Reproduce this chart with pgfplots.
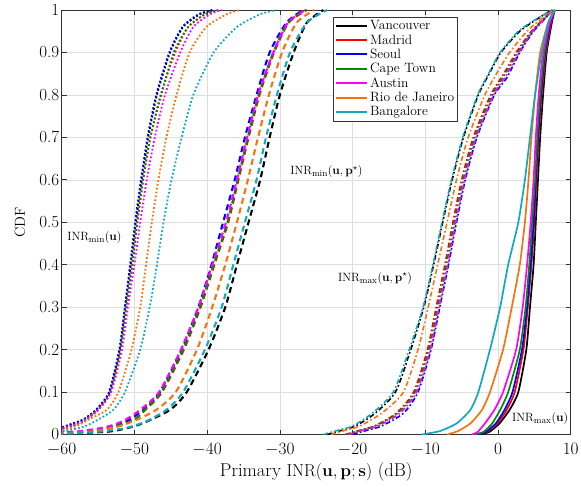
\documentclass[border=0pt]{standalone}
\usepackage{pgfplots}
\pgfplotsset{compat=1.18}
\definecolor{cBlack}{rgb}{0,0,0}
\definecolor{cRed}{rgb}{1,0,0}
\definecolor{cBlue}{rgb}{0,0,1}
\definecolor{cGreen}{rgb}{0,0.55,0}
\definecolor{cMag}{rgb}{1,0,1}
\definecolor{cOrange}{rgb}{0.97,0.45,0.05}
\definecolor{cCyan}{rgb}{0.07,0.66,0.74}
\pgfplotsset{
  dotS/.style={line width=1.8pt, dash pattern=on 1.8pt off 2.1pt, smooth, tension=0.4, forget plot},
  dashS/.style={line width=2.1pt, dash pattern=on 6pt off 4pt, smooth, tension=0.4, forget plot},
  ddS/.style={line width=1.6pt, dash pattern=on 5pt off 2.5pt on 1.6pt off 2.5pt, smooth, tension=0.4, forget plot},
  solS/.style={line width=1.7pt, smooth, tension=0.35, forget plot},
}
\begin{document}
\begin{tikzpicture}
\begin{axis}[
  scale only axis,
  width=509pt, height=424.5pt,
  xmin=-60, xmax=10, ymin=0, ymax=1,
  xtick={-60,-50,...,10},
  ytick={0,0.1,...,1.01},
  yticklabels={0,0.1,0.2,0.3,0.4,0.5,0.6,0.7,0.8,0.9,1},
  grid=major,
  major grid style={color=black!13, line width=0.5pt},
  axis line style={color=black!80, line width=0.6pt},
  tick style={color=black!80, line width=0.6pt},
  major tick length=5pt,
  tick align=inside,
  ticklabel style={font=\fontsize{17}{20}\selectfont},
  xticklabel style={yshift=-5pt},
  yticklabel style={xshift=1pt},
  xlabel={Primary $\mathrm{INR}(\mathbf{u},\mathbf{p};\mathbf{s})$ (dB)},
  ylabel={CDF},
  xlabel style={font=\fontsize{18.5}{22}\selectfont, at={(axis description cs:0.5,-0.0876)}, anchor=center},
  ylabel style={font=\fontsize{14.5}{17}\selectfont, at={(axis description cs:-0.082,0.5)}, anchor=center},
  legend style={at={(0.7786,0.984)}, anchor=north east, draw=black!80, line width=0.6pt, fill=white,
    font=\fontsize{13.5}{16.7}\selectfont, cells={anchor=west}, inner sep=1.5pt, row sep=-0.6pt},
  legend image code/.code={\draw[#1, line width=2pt, solid] (0pt,0pt) -- (31pt,0pt);},
  clip=true,
]
% ---------- INR_min(u): dotted ----------
\addplot[dotS, color=cBlack] coordinates {(-62,0.008)(-60,0.016)(-58.5,0.025)(-57,0.035)(-55.2,0.058)(-53.4,0.1)(-52.0,0.2)(-51.3,0.3)(-50.5,0.4)(-49.8,0.5)(-49.0,0.6)(-48.1,0.7)(-46.9,0.8)(-45.1,0.9)(-43.3,0.96)(-41,0.99)(-39,1)};
\addplot[dotS, color=cRed] coordinates {(-62,0.006)(-60,0.013)(-58.5,0.021)(-57,0.031)(-55.0,0.058)(-53.3,0.1)(-51.9,0.2)(-51.1,0.3)(-50.3,0.4)(-49.6,0.5)(-48.8,0.6)(-47.8,0.7)(-46.4,0.8)(-44.4,0.9)(-42.6,0.96)(-40.3,0.99)(-38.5,1)};
\addplot[dotS, color=cBlue] coordinates {(-62,0.009)(-60,0.017)(-58.5,0.026)(-57,0.036)(-55.3,0.058)(-53.5,0.1)(-52.1,0.2)(-51.3,0.3)(-50.6,0.4)(-49.9,0.5)(-49.1,0.6)(-48.2,0.7)(-47.0,0.8)(-45.2,0.9)(-43.4,0.96)(-41.2,0.99)(-39.3,1)};
\addplot[dotS, color=cGreen] coordinates {(-62,0.006)(-60,0.013)(-58.5,0.021)(-57,0.031)(-55.0,0.058)(-53.3,0.1)(-51.9,0.2)(-51.1,0.3)(-50.3,0.4)(-49.6,0.5)(-48.8,0.6)(-47.8,0.7)(-46.3,0.8)(-44.6,0.9)(-42.6,0.96)(-40.3,0.99)(-38.5,1)};
\addplot[dotS, color=cMag] coordinates {(-62,0.007)(-60,0.014)(-58.5,0.022)(-57,0.032)(-55.0,0.058)(-53.2,0.1)(-51.7,0.2)(-50.9,0.3)(-50.0,0.4)(-49.2,0.5)(-48.3,0.6)(-47.2,0.7)(-45.8,0.8)(-43.7,0.9)(-41.9,0.96)(-39.6,0.99)(-38,1)};
\addplot[dotS, color=cOrange] coordinates {(-62,0.004)(-60,0.009)(-58,0.02)(-56,0.038)(-53.8,0.058)(-52.2,0.1)(-50.4,0.2)(-49.2,0.3)(-48.4,0.4)(-47.6,0.5)(-46.7,0.6)(-45.6,0.7)(-44.2,0.8)(-42.4,0.9)(-40.1,0.96)(-37.3,0.99)(-35.5,1)};
\addplot[dotS, color=cCyan] coordinates {(-62,0.003)(-60,0.007)(-57,0.018)(-55,0.035)(-52.9,0.058)(-51.3,0.1)(-49.2,0.2)(-47.9,0.3)(-46.9,0.4)(-46.0,0.5)(-44.9,0.6)(-43.5,0.7)(-41.9,0.8)(-39.1,0.9)(-35.9,0.96)(-32.7,0.99)(-30.5,1)};
% ---------- INR_min(u,p*): dashed ----------
\addplot[dashS, color=cBlack] coordinates {(-62,0.001)(-58,0.003)(-53.4,0.007)(-51,0.015)(-48.9,0.026)(-45.1,0.058)(-42.8,0.1)(-39.8,0.2)(-37.5,0.3)(-35.9,0.4)(-34.3,0.5)(-32.7,0.6)(-31.4,0.7)(-30.0,0.8)(-28.1,0.9)(-26.3,0.97)(-24.0,1)};
\addplot[dashS, color=cRed] coordinates {(-62,0.002)(-58,0.005)(-55,0.011)(-52,0.022)(-50,0.035)(-48.5,0.058)(-46.2,0.1)(-43.2,0.2)(-40.9,0.3)(-39.0,0.4)(-37.1,0.5)(-35.7,0.6)(-34.3,0.7)(-32.8,0.8)(-30.8,0.9)(-28.8,0.97)(-26.3,1)};
\addplot[dashS, color=cBlue] coordinates {(-62,0.002)(-58,0.005)(-55,0.011)(-53.4,0.015)(-51,0.032)(-48.8,0.058)(-46.5,0.1)(-43.5,0.2)(-41.2,0.3)(-39.4,0.4)(-37.8,0.5)(-36.2,0.6)(-34.8,0.7)(-33.2,0.8)(-31.4,0.9)(-29.1,0.97)(-26.8,1)};
\addplot[dashS, color=cGreen] coordinates {(-62,0.002)(-58,0.005)(-55,0.011)(-52,0.022)(-50,0.035)(-48.6,0.058)(-46.3,0.1)(-43.3,0.2)(-41.0,0.3)(-39.1,0.4)(-37.2,0.5)(-35.8,0.6)(-34.4,0.7)(-32.9,0.8)(-30.9,0.9)(-28.9,0.97)(-26.4,1)};
\addplot[dashS, color=cMag] coordinates {(-62,0.003)(-58,0.007)(-55,0.014)(-53,0.022)(-51.3,0.034)(-49.2,0.058)(-46.6,0.1)(-43.6,0.2)(-41.2,0.3)(-39.3,0.4)(-37.4,0.5)(-35.9,0.6)(-34.5,0.7)(-33.0,0.8)(-30.9,0.9)(-28.9,0.97)(-26.5,1)};
\addplot[dashS, color=cOrange] coordinates {(-62,0.001)(-58,0.004)(-55,0.009)(-52,0.02)(-49.5,0.036)(-47,0.058)(-44.3,0.1)(-41.4,0.2)(-39.3,0.3)(-37.5,0.4)(-35.9,0.5)(-34.4,0.6)(-33.0,0.7)(-31.5,0.8)(-29.7,0.9)(-27.7,0.97)(-25.3,1)};
\addplot[dashS, color=cCyan] coordinates {(-62,0.001)(-58,0.003)(-54,0.008)(-51,0.016)(-48.5,0.03)(-45.6,0.058)(-43.3,0.1)(-40.3,0.2)(-38.0,0.3)(-36.4,0.4)(-34.8,0.5)(-33.2,0.6)(-31.9,0.7)(-30.4,0.8)(-28.6,0.9)(-26.3,0.97)(-23.5,1)};
% ---------- INR_max(u,p*): dash-dot ----------
\addplot[ddS, color=cBlack] coordinates {(-23.5,0)(-21.5,0.01)(-19.6,0.02)(-16.9,0.05)(-14.1,0.1)(-12,0.2)(-10.2,0.3)(-8.85,0.4)(-7.6,0.5)(-6.3,0.6)(-4.75,0.7)(-2.7,0.8)(-1.2,0.85)(0.4,0.9)(3.0,0.95)(5.5,0.98)(7.4,1)};
\addplot[ddS, color=cRed] coordinates {(-21,0)(-19,0.01)(-17,0.02)(-14,0.05)(-11.6,0.1)(-9.7,0.2)(-8.5,0.3)(-7.3,0.4)(-6.2,0.5)(-5.0,0.6)(-3.4,0.7)(-1.0,0.8)(0.8,0.85)(2.5,0.9)(4.6,0.95)(7.5,1)};
\addplot[ddS, color=cBlue] coordinates {(-20,0)(-18,0.01)(-16,0.02)(-13,0.05)(-11.0,0.1)(-9.2,0.2)(-8.0,0.3)(-6.8,0.4)(-5.7,0.5)(-4.5,0.6)(-2.9,0.7)(-0.5,0.8)(1.2,0.84)(3.0,0.9)(4.9,0.95)(7.6,1)};
\addplot[ddS, color=cGreen] coordinates {(-20.8,0)(-18.8,0.01)(-16.8,0.02)(-13.8,0.05)(-11.4,0.1)(-9.5,0.2)(-8.3,0.3)(-7.1,0.4)(-6.0,0.5)(-4.8,0.6)(-3.2,0.7)(-0.8,0.8)(1.0,0.85)(2.7,0.9)(4.7,0.95)(7.5,1)};
\addplot[ddS, color=cMag] coordinates {(-20.5,0)(-18.5,0.01)(-16.5,0.02)(-13.5,0.05)(-11.2,0.1)(-9.3,0.2)(-8.1,0.3)(-6.9,0.4)(-5.8,0.5)(-4.6,0.6)(-3.0,0.7)(-0.6,0.8)(1.1,0.845)(2.9,0.9)(4.8,0.95)(7.6,1)};
\addplot[ddS, color=cOrange] coordinates {(-23,0)(-21,0.01)(-19,0.02)(-16,0.05)(-13,0.1)(-11,0.2)(-9.6,0.3)(-8.3,0.4)(-7.0,0.5)(-5.7,0.6)(-4.1,0.7)(-1.8,0.8)(-0.2,0.85)(1.6,0.9)(4.0,0.95)(6.0,0.98)(7.6,1)};
\addplot[ddS, color=cCyan] coordinates {(-24,0)(-22,0.01)(-20,0.02)(-17.3,0.05)(-14.4,0.1)(-12.2,0.2)(-10.3,0.3)(-8.95,0.4)(-7.7,0.5)(-6.4,0.6)(-4.85,0.7)(-2.8,0.8)(-1.3,0.85)(0.3,0.9)(2.8,0.95)(5.4,0.98)(7.4,1)};
% ---------- INR_max(u): solid ----------
\addplot[solS, color=cBlack] coordinates {(-2.6,0)(-1.2,0.006)(0.2,0.026)(1.6,0.058)(2.8,0.1)(3.9,0.2)(4.4,0.3)(4.9,0.4)(5.2,0.5)(5.5,0.6)(5.8,0.7)(6.2,0.8)(6.7,0.9)(7.4,0.97)(7.8,1)};
\addplot[solS, color=cRed] coordinates {(-3.0,0)(-1.6,0.006)(-0.1,0.026)(1.2,0.058)(2.3,0.1)(3.5,0.2)(4.1,0.3)(4.6,0.4)(5.0,0.5)(5.3,0.6)(5.6,0.7)(6.0,0.8)(6.6,0.9)(7.3,0.97)(7.8,1)};
\addplot[solS, color=cBlue] coordinates {(-3.0,0)(-1.7,0.006)(-0.3,0.026)(0.9,0.058)(2.0,0.1)(3.3,0.2)(4.0,0.3)(4.5,0.4)(4.9,0.5)(5.2,0.6)(5.5,0.7)(5.9,0.8)(6.5,0.9)(7.2,0.97)(7.8,1)};
\addplot[solS, color=cGreen] coordinates {(-3.3,0)(-2.0,0.006)(-0.8,0.026)(0.3,0.058)(1.4,0.1)(3.0,0.2)(3.8,0.3)(4.3,0.4)(4.7,0.5)(5.1,0.6)(5.4,0.7)(5.8,0.8)(6.4,0.9)(7.1,0.97)(7.8,1)};
\addplot[solS, color=cMag] coordinates {(-3.6,0)(-2.8,0.006)(-1.8,0.026)(-0.5,0.058)(0.7,0.1)(2.5,0.2)(3.4,0.3)(4.0,0.4)(4.5,0.5)(4.9,0.6)(5.2,0.7)(5.6,0.8)(6.2,0.9)(7.1,0.97)(7.8,1)};
\addplot[solS, color=cOrange] coordinates {(-7.0,0)(-5.5,0.008)(-3.8,0.026)(-2.2,0.058)(-1.1,0.1)(0.7,0.2)(1.9,0.3)(3.0,0.4)(3.7,0.5)(4.2,0.6)(4.6,0.7)(5.1,0.8)(5.8,0.9)(6.9,0.97)(7.8,1)};
\addplot[solS, color=cCyan] coordinates {(-10.5,0)(-8,0.008)(-5.7,0.026)(-3.8,0.058)(-2.7,0.1)(-1.1,0.2)(0.3,0.3)(1.4,0.4)(2.8,0.5)(3.7,0.6)(4.4,0.7)(5.1,0.8)(6.0,0.9)(6.9,0.97)(7.8,1)};
% ---------- legend ----------
\addlegendimage{color=cBlack}\addlegendentry{Vancouver}
\addlegendimage{color=cRed}\addlegendentry{Madrid}
\addlegendimage{color=cBlue}\addlegendentry{Seoul}
\addlegendimage{color=cGreen}\addlegendentry{Cape Town}
\addlegendimage{color=cMag}\addlegendentry{Austin}
\addlegendimage{color=cOrange}\addlegendentry{Rio de Janeiro}
\addlegendimage{color=cCyan}\addlegendentry{Bangalore}
% ---------- annotations ----------
\node[font=\fontsize{13}{16}\selectfont] at (axis cs:-55.5,0.463) {$\mathrm{INR}_{\min}(\mathbf{u})$};
\node[font=\fontsize{13}{16}\selectfont] at (axis cs:-23.6,0.619) {$\mathrm{INR}_{\min}(\mathbf{u},\mathbf{p}^{\star})$};
\node[font=\fontsize{13}{16}\selectfont] at (axis cs:-16.9,0.368) {$\mathrm{INR}_{\max}(\mathbf{u},\mathbf{p}^{\star})$};
\node[font=\fontsize{13}{16}\selectfont] at (axis cs:5.8,0.038) {$\mathrm{INR}_{\max}(\mathbf{u})$};
\end{axis}
\path (current axis.south west) ++(-61.7pt,-52.5pt) coordinate (bbBL);
\path (current axis.north east) ++(10.3pt,10pt) coordinate (bbTR);
\pgfresetboundingbox
\path (bbBL) rectangle (bbTR);
\end{tikzpicture}
\end{document}
